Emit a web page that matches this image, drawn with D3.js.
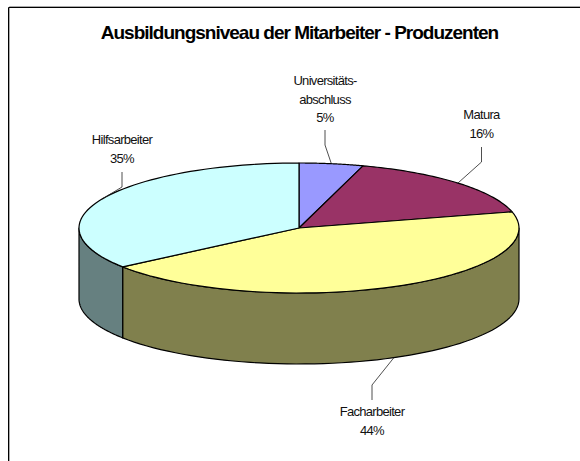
<!DOCTYPE html>
<html><head><meta charset="utf-8">
<script src="https://cdn.jsdelivr.net/npm/d3@7"></script>
<style>html,body{margin:0;background:#fff}svg{display:block}text{font-family:"Liberation Sans",Arial,sans-serif}</style>
</head><body><svg id="c" width="580" height="461"></svg>
<script>
const titleText = "Ausbildungsniveau der Mitarbeiter - Produzenten";
const categories = ["Universitäts-\nabschluss","Matura","Facharbeiter","Hilfsarbeiter"];
const shares = [4.7,16.3,43.8,35.2];
const percentLabels = ["5%","16%","44%","35%"];
const topColors = ["#9999FF","#993366","#FFFF99","#CCFFFF"];
const sideColors = ["#5C5C99","#5C1F3D","#80804D","#668080"];

const cx=299, cy=228, rx=220, ry=65, depth=71;
const svg=d3.select("#c");
svg.append("path").attr("d","M9.5 461V6.5H580").attr("fill","none").attr("stroke","#aaa");
svg.append("path").attr("d","M8.5 461V7.5H580").attr("fill","none").attr("stroke","#000");
svg.append("text").attr("x",299.5).attr("y",39).attr("text-anchor","middle")
  .attr("font-size",19).attr("font-weight","bold").attr("letter-spacing",-1).attr("fill","#000").text(titleText);

const arcs=d3.pie().value(d=>d).sort(null)(shares);
const px=a=>cx+rx*Math.sin(a), py=a=>cy-ry*Math.cos(a);
const line=d3.line().x(d=>d[0]).y(d=>d[1]);
const pts=(a0,a1,dy)=>d3.range(0,61).map(i=>{const a=a0+(a1-a0)*i/60;return [px(a),py(a)+dy]});

// side wall: visible only for the lower half of the ellipse
const vis0=Math.PI/2, vis1=Math.PI*1.5;
arcs.forEach((d,i)=>{
  const a0=Math.max(d.startAngle,vis0), a1=Math.min(d.endAngle,vis1);
  if(a1<=a0) return;
  svg.append("path").attr("d",line(pts(a0,a1,0).concat(pts(a1,a0,depth)))+"Z")
    .attr("fill",sideColors[i]).attr("stroke","#000").attr("stroke-width",1.2).attr("stroke-linejoin","round");
});
// top faces
arcs.forEach((d,i)=>{
  svg.append("path").attr("d",line([[cx,cy]].concat(pts(d.startAngle,d.endAngle,0)))+"Z")
    .attr("fill",topColors[i]).attr("stroke","#000").attr("stroke-width",1.2).attr("stroke-linejoin","round");
});

// labels, each with a leader from the middle of its slice
const labelX=[325,481.5,372,122], labelY=[85,119,416,144];
const stubBend=[145,162,385,187], stubEnd=[130,147,400,172];
arcs.forEach((d,i)=>{
  const a=(d.startAngle+d.endAngle)/2, dy=(i==2)?depth:0;
  const p=[[px(a),py(a)+dy],[labelX[i],stubBend[i]],[labelX[i],stubEnd[i]]];
  svg.append("path").attr("d",line(p)).attr("fill","none").attr("stroke","#222").attr("stroke-width",0.8);
  const t=svg.append("text").attr("text-anchor","middle").attr("font-size",13).attr("letter-spacing",-0.7).attr("fill","#111");
  categories[i].split("\n").concat(percentLabels[i]).forEach((s,j)=>
    t.append("tspan").attr("x",labelX[i]).attr("y",labelY[i]+j*18.5).text(s));
});
</script></body></html>
